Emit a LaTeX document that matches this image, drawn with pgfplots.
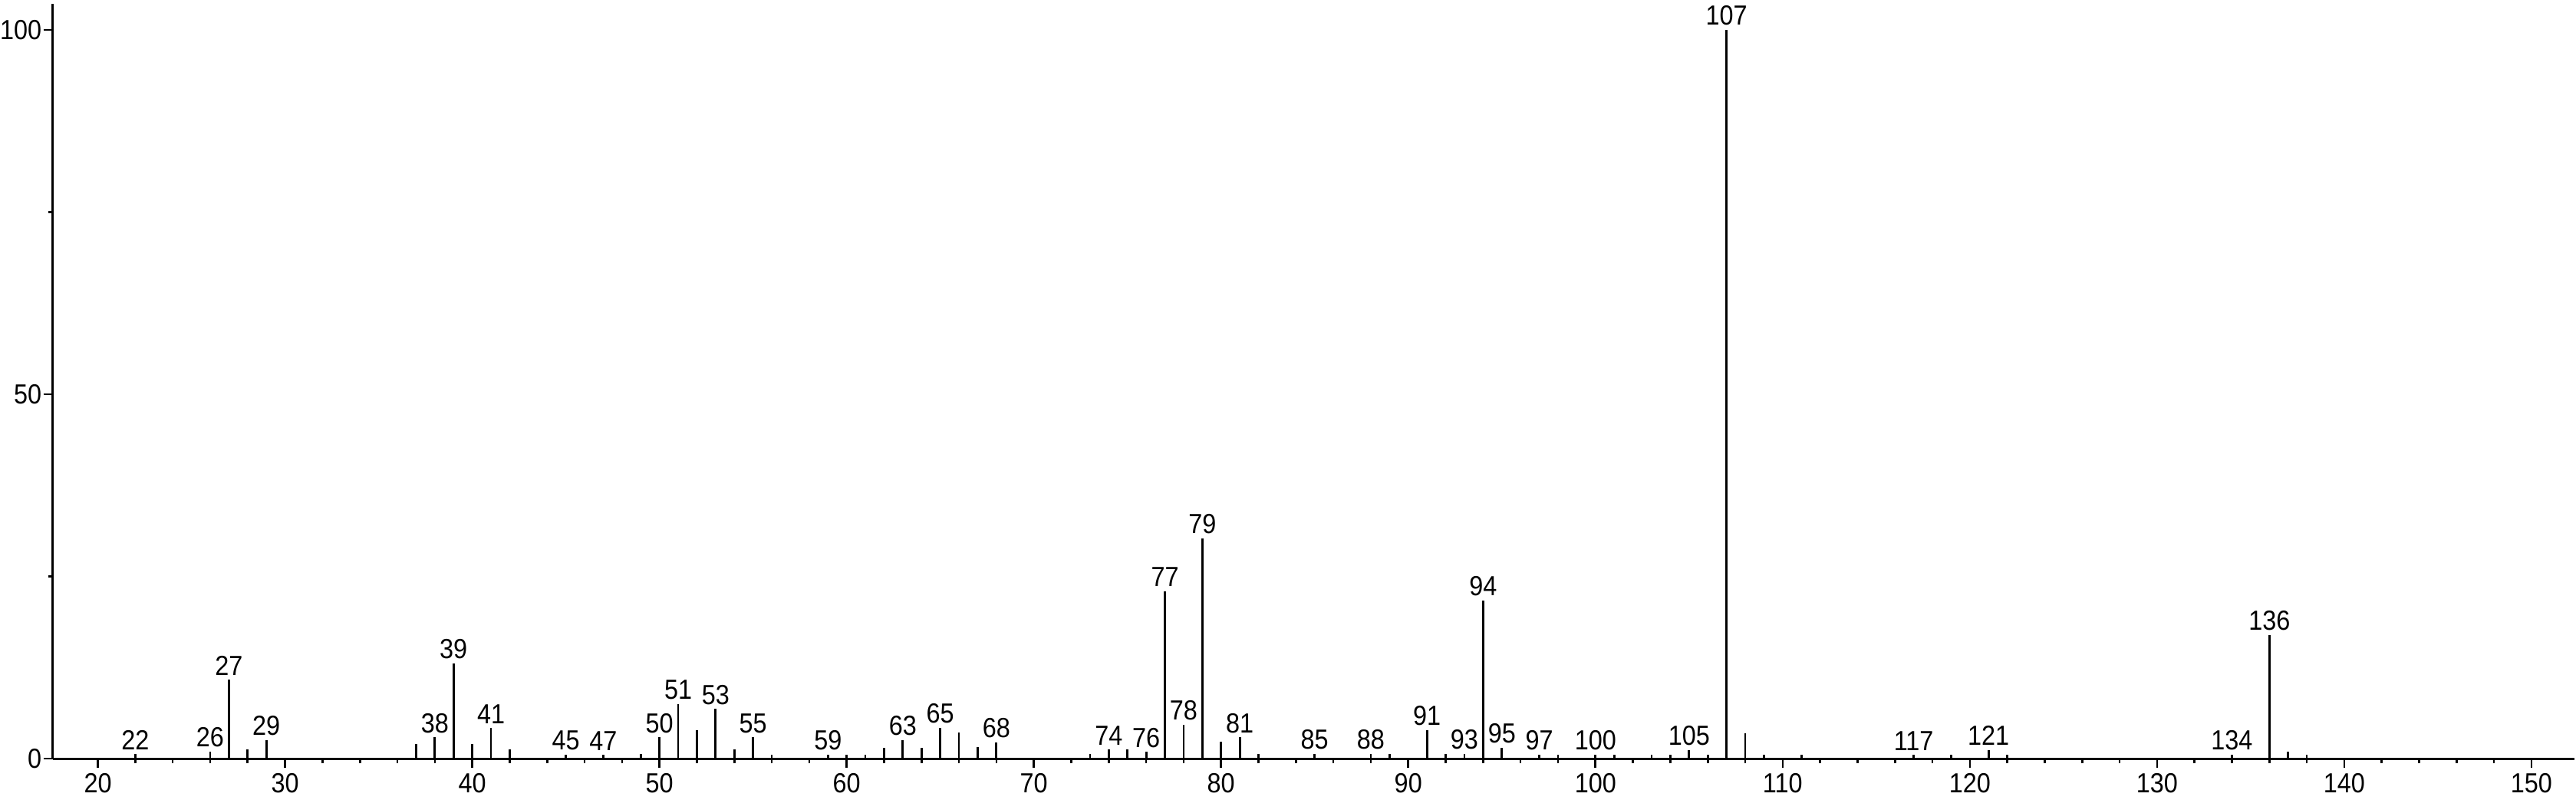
\documentclass[border=0pt]{standalone}
\usepackage{pgfplots}
\usepackage{pgfplotstable}
\pgfplotsset{compat=1.18}
\usepackage{fontspec}
\setmainfont{Liberation Sans}[FakeStretch=0.9]
\begin{document}
\pgfplotstableread{
x y
22 0.6
26 0.95
27 10.8
28 1.26
29 2.5
37 2.0
38 2.9
39 13.1
40 2.0
41 4.2
42 1.26
45 0.5
47 0.5
49 0.6
50 2.9
51 7.5
52 3.9
53 6.8
54 1.26
55 2.9
56 0.55
59 0.55
60 0.55
61 0.55
62 1.5
63 2.5
64 1.5
65 4.2
66 3.6
67 1.6
68 2.25
73 0.63
74 1.26
75 1.26
76 0.9
77 23.0
78 4.6
79 30.2
80 2.3
81 2.9
82 0.63
85 0.6
88 0.6
89 0.6
91 3.9
92 0.6
93 0.6
94 21.7
95 1.5
97 0.5
98 0.5
100 0.5
101 0.5
103 0.5
104 0.5
105 1.2
106 0.5
107 100
108 3.5
109 0.5
111 0.5
117 0.5
119 0.5
121 1.2
122 0.5
134 0.5
136 17.0
137 0.95
138 0.5
}\peaks
\pgfplotstableread{
x y
22 0.6
26 0.95
27 10.8
29 2.5
38 2.9
39 13.1
41 4.2
45 0.5
47 0.5
50 2.9
51 7.5
53 6.8
55 2.9
59 0.55
63 2.5
65 4.2
68 2.25
74 1.26
76 0.9
77 23.0
78 4.6
79 30.2
81 2.9
85 0.6
88 0.6
91 3.9
93 0.6
94 21.7
95 1.5
97 0.5
100 0.5
105 1.2
107 100
117 0.5
121 1.2
134 0.5
136 17.0
}\labs
\begin{tikzpicture}
\begin{axis}[
  scale only axis,
  width=821.75pt, height=246pt,
  xmin=17.6, xmax=152.3, ymin=0, ymax=103.6,
  axis lines=left,
  axis line style={-, line width=0.75pt, black},
  xtick={20,30,...,150},
  minor x tick num=4,
  ytick={0,50,100},
  minor y tick num=1,
  tick align=outside,
  major tick length=3.1pt,
  minor tick length=1.5pt,
  tick style={line width=0.65pt, black},
  every tick label/.append style={font=\fontsize{9}{10}\selectfont},
  xticklabel style={inner sep=1.6pt},
  yticklabel style={inner sep=0.4pt},
  /pgf/number format/assume math mode=true,
  clip=false,
]
\coordinate (ll) at (rel axis cs:0,0);
\coordinate (ur) at (rel axis cs:1,1);
\addplot[ycomb, black, line width=0.7pt, mark=none] table[x=x,y=y] {\peaks};
\addplot[draw=none, mark=none, nodes near coords, point meta=explicit symbolic,
  nodes near coords style={anchor=south, inner sep=0pt, yshift=1.3pt, font=\fontsize{9}{10}\selectfont, text=black}]
  table[x=x,y=y,meta=x] {\labs};
\end{axis}
\pgfresetboundingbox
\path ([shift={(-17.25pt,-13.25pt)}]ll) rectangle ([shift={(0.5pt,1.25pt)}]ur);
\end{tikzpicture}
\end{document}
